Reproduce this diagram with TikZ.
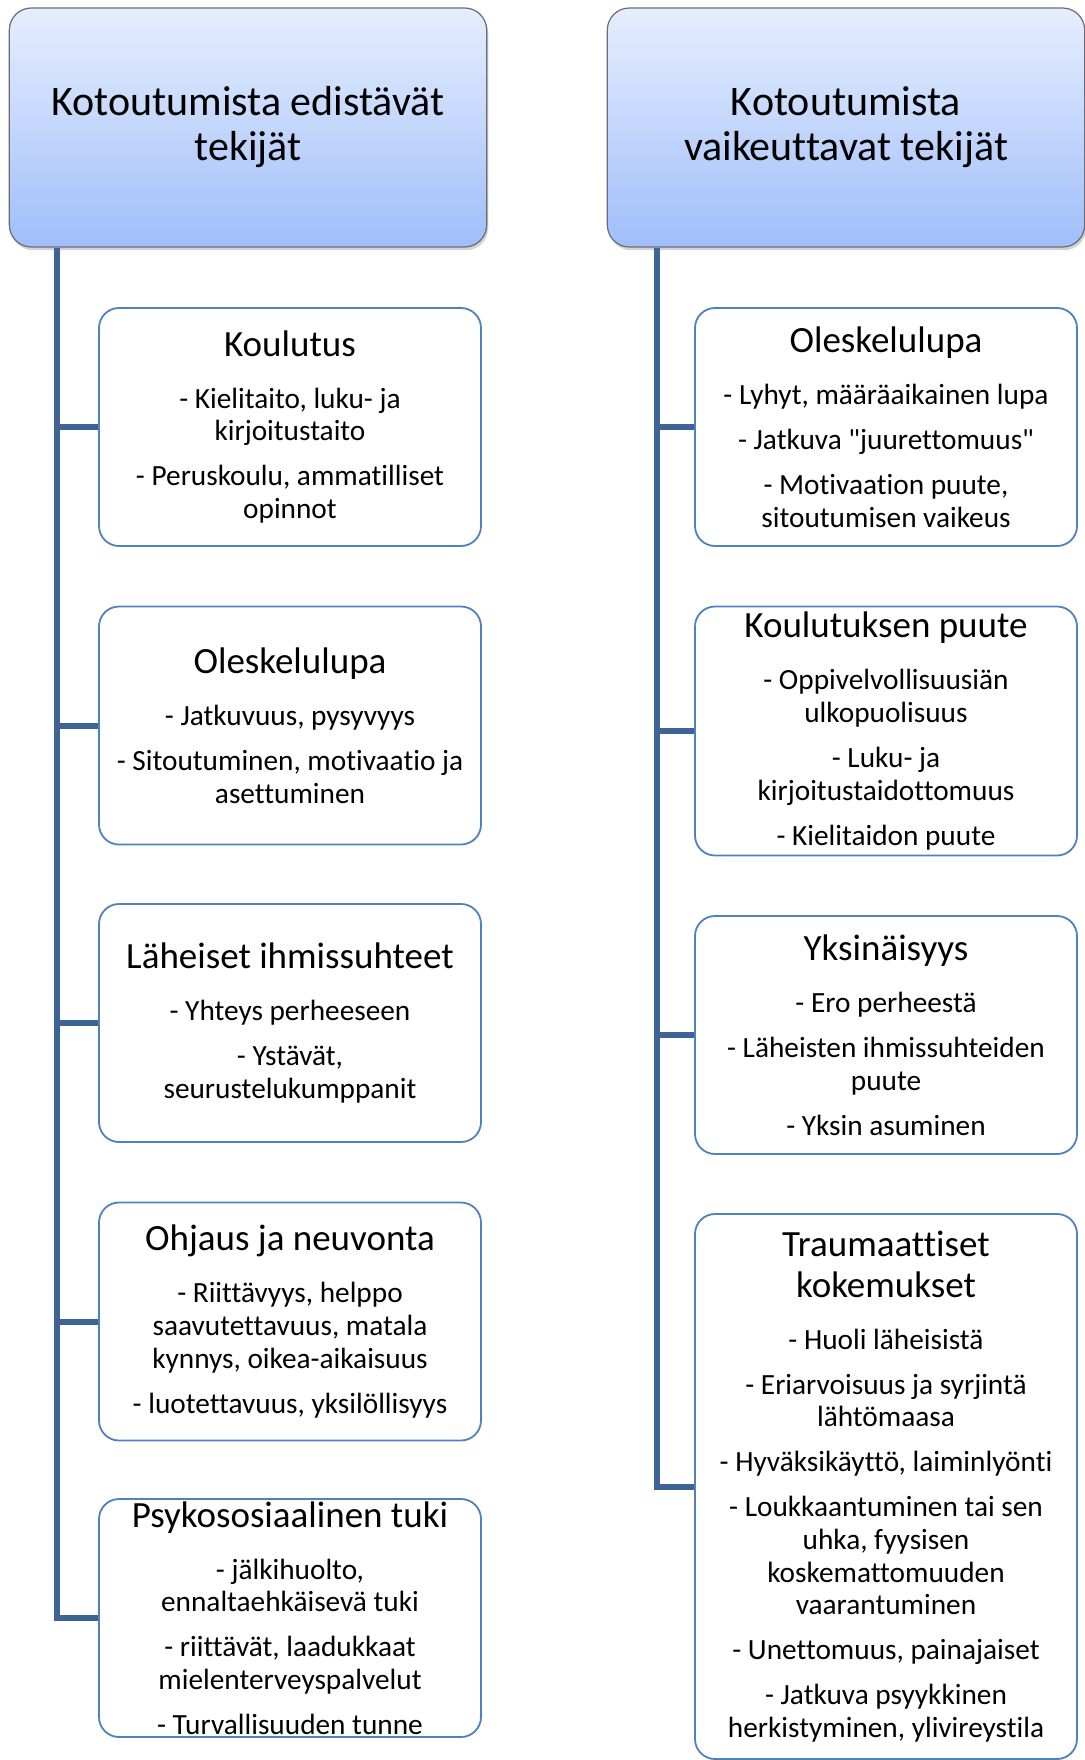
\documentclass[tikz,border=0pt]{standalone}
\usepackage{fontspec}
\setmainfont{Carlito}[Ligatures={TeXOff,NoCommon}]
\usetikzlibrary{shadows}
\definecolor{linkblue}{RGB}{62,100,150}
\definecolor{boxblue}{RGB}{79,129,189}
\definecolor{headtop}{RGB}{230,238,253}
\definecolor{headbot}{RGB}{160,190,250}
\definecolor{headedge}{RGB}{105,108,118}
\newcommand{\ttl}{\fontsize{18.5}{20.5}\selectfont}
\newcommand{\itm}{\fontsize{14.65}{16.3}\selectfont}
\newcommand{\igap}{\par\vspace{6.2pt}}

\begin{document}
\begin{tikzpicture}[x=0.5pt,y=-0.5pt,
  header/.style={draw=headedge,line width=0.6pt,rounded corners=11pt,top color=headtop,bottom color=headbot,
    drop shadow={shadow xshift=0.8pt,shadow yshift=-1.6pt,opacity=0.35},
    minimum width=238pt,minimum height=119.5pt,text width=232pt,align=flush center,
    font=\fontsize{21}{22.5}\selectfont},
  factor/.style={draw=boxblue,line width=0.9pt,fill=white,rounded corners=10pt,
    minimum width=191pt,minimum height=119pt,text width=186pt,align=flush center,inner sep=1pt},
  link/.style={draw=linkblue,line width=3pt}]
\useasboundingbox (0,0) rectangle (1085,1760);
\node[header] (hL) at (248,127.5) {Kotoutumista edistävät\par tekijät\par};
\node[header] (hR) at (846,127.5) {Kotoutumista\par vaikeuttavat tekijät\par};
\node[factor] (l1) at (290,427) {{\ttl Koulutus\par}\vspace{9.7pt}\itm
  - Kielitaito, luku- ja\\kirjoitustaito\igap - Peruskoulu, ammatilliset\\opinnot\par};
\node[factor] (l2) at (290,725.5) {{\ttl Oleskelulupa\par}\vspace{9.7pt}\itm
  - Jatkuvuus, pysyvyys\igap - Sitoutuminen, motivaatio ja\\asettuminen\par};
\node[factor] (l3) at (290,1023) {{\ttl Läheiset ihmissuhteet\par}\vspace{9.7pt}\itm
  - Yhteys perheeseen\igap - Ystävät,\\seurustelukumppanit\par};
\node[factor] (l4) at (290,1321.5) {{\ttl Ohjaus ja neuvonta\par}\vspace{9.7pt}\itm
  - Riittävyys, helppo\\saavutettavuus, matala\\kynnys, oikea-aikaisuus\igap - luotettavuus, yksilöllisyys\par};
\node[factor] (l5) at (290,1618) {{\ttl Psykososiaalinen tuki\par}\vspace{9.7pt}\itm
  - jälkihuolto,\\ennaltaehkäisevä tuki\igap - riittävät, laadukkaat\\mielenterveyspalvelut\igap - Turvallisuuden tunne\par};
\node[factor] (r1) at (886,427) {{\ttl Oleskelulupa\par}\vspace{9.7pt}\itm
  - Lyhyt, määräaikainen lupa\igap - Jatkuva "juurettomuus"\igap - Motivaation puute,\\sitoutumisen vaikeus\par};
\node[factor,minimum height=124.5pt] (r2) at (886,731) {{\ttl Koulutuksen puute\par}\vspace{9.7pt}\itm
  - Oppivelvollisuusiän\\ulkopuolisuus\igap - Luku- ja\\kirjoitustaidottomuus\igap - Kielitaidon puute\par};
\node[factor] (r3) at (886,1035) {{\ttl Yksinäisyys\par}\vspace{9.7pt}\itm
  - Ero perheestä\igap - Läheisten ihmissuhteiden\\puute\igap - Yksin asuminen\par};
\node[factor,minimum height=272.5pt] (r4) at (886,1486.5) {{\ttl Traumaattiset\\kokemukset\par}\vspace{9.7pt}\itm
  - Huoli läheisistä\igap - Eriarvoisuus ja syrjintä\\lähtömaasa\igap - Hyväksikäyttö, laiminlyönti\igap
  - Loukkaantuminen tai sen\\uhka, fyysisen\\koskemattomuuden\\vaarantuminen\igap
  - Unettomuus, painajaiset\igap - Jatkuva psyykkinen\\herkistyminen, ylivireystila\par};
\coordinate (tL) at (57,0);
\coordinate (tR) at (657,0);
\draw[link] (hL.south -| tL) |- (l5.west);
\draw[link] (tL |- l1.west) -- (l1.west);
\draw[link] (tL |- l2.west) -- (l2.west);
\draw[link] (tL |- l3.west) -- (l3.west);
\draw[link] (tL |- l4.west) -- (l4.west);
\draw[link] (hR.south -| tR) |- (r4.west);
\draw[link] (tR |- r1.west) -- (r1.west);
\draw[link] (tR |- r2.west) -- (r2.west);
\draw[link] (tR |- r3.west) -- (r3.west);
\end{tikzpicture}
\end{document}
